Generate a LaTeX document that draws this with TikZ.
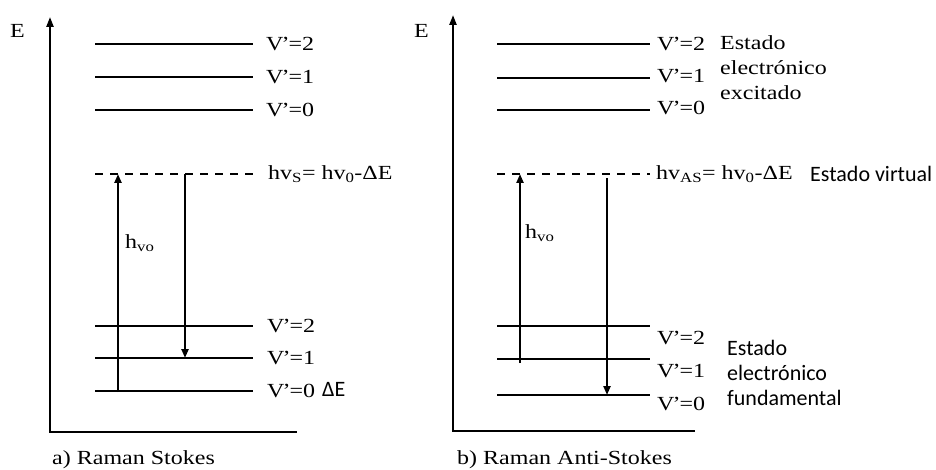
\documentclass[tikz,border=0pt]{standalone}
\usepackage{fontspec}
\setmainfont{Liberation Serif}[FakeStretch=1.2]
\newfontfamily\calib{Carlito}
\usetikzlibrary{arrows.meta}
\newcommand\myVp{V\kern-2pt’\kern-1pt}
\begin{document}
\begin{tikzpicture}[x=1pt,y=-1pt,
  lvl/.style={line width=2.2pt},
  axisline/.style={line width=2.2pt,{Triangle[length=10pt,width=7pt]}-},
  dashlvl/.style={line width=1.9pt, dash pattern=on 8pt off 7pt},
  tr/.style={line width=2.2pt,-{Triangle[length=9pt,width=7pt]}},
  lab/.style={anchor=west, inner sep=0pt, font=\fontsize{20}{23}\selectfont, align=left},
  sans/.style={anchor=west, inner sep=0pt, font=\calib\fontsize{22}{24}\selectfont, align=left},
]
\useasboundingbox (0,0) rectangle (936,470);

% ---------------- left panel ----------------
\coordinate (aTop) at (50,17);
\coordinate (aO) at (50,432);
\coordinate (aRight) at (297,432);
\draw[axisline] (aTop) -- (aO) -- (aRight);
\node[lab] (aE) at (10,31) {E};

\draw[lvl] (95,44) coordinate (aU2l) -- (253,44) coordinate (aU2r);
\draw[lvl] (95,77) coordinate (aU1l) -- (253,77) coordinate (aU1r);
\draw[lvl] (95,110) coordinate (aU0l) -- (253,110) coordinate (aU0r);
\node[lab] (aU2t) at ([xshift=13pt]aU2r) {\myVp=2};
\node[lab] (aU1t) at ([xshift=13pt]aU1r) {\myVp=1};
\node[lab] (aU0t) at ([xshift=13pt]aU0r) {\myVp=0};

\draw[dashlvl] (95,174) coordinate (aVl) -- (253,174) coordinate (aVr);
\node[lab] (aVt) at ([xshift=15pt]aVr) {hv\textsubscript{S}= hv\textsubscript{0}-ΔE};

\draw[lvl] (95,326) coordinate (aL2l) -- (253,326) coordinate (aL2r);
\draw[lvl] (95,358) coordinate (aL1l) -- (253,358) coordinate (aL1r);
\draw[lvl] (95,391) coordinate (aL0l) -- (253,391) coordinate (aL0r);
\node[lab] (aL2t) at ([xshift=14pt]aL2r) {\myVp=2};
\node[lab] (aL1t) at ([xshift=14pt]aL1r) {\myVp=1};
\node[lab] (aL0t) at ([xshift=14pt]aL0r) {\myVp=0};
\node[sans] (aDE) at (322,389) {ΔE};

\coordinate (aUpS) at (118,392);
\coordinate (aUpE) at (118,174);
\coordinate (aDnS) at (185,174);
\coordinate (aDnE) at (185,358);
\draw[tr] (aUpS) -- (aUpE);
\draw[tr] (aDnS) -- (aDnE);
\node[lab] (aH) at (125,243) {h\textsubscript{vo}};

\node[lab] (aCap) at (52,460) {a) Raman Stokes};

% ---------------- right panel ----------------
\coordinate (bTop) at (453,15);
\coordinate (bO) at (453,431);
\coordinate (bRight) at (695,431);
\draw[axisline] (bTop) -- (bO) -- (bRight);
\node[lab] (bE) at (414,31) {E};

\draw[lvl] (497,44) coordinate (bU2l) -- (650,44) coordinate (bU2r);
\draw[lvl] (497,78) coordinate (bU1l) -- (650,78) coordinate (bU1r);
\draw[lvl] (497,110) coordinate (bU0l) -- (650,110) coordinate (bU0r);
\node[lab] (bU2t) at ([xshift=7pt]bU2r) {\myVp=2};
\node[lab] (bU1t) at ([xshift=7pt,yshift=2pt]bU1r) {\myVp=1};
\node[lab] (bU0t) at ([xshift=7pt,yshift=2pt]bU0r) {\myVp=0};
\node[lab, anchor=north west, font=\fontsize{20}{25}\selectfont] (bExc) at (720,35) {Estado\\electrónico\\excitado};

\draw[dashlvl] (497,174) coordinate (bVl) -- (650,174) coordinate (bVr);
\node[lab] (bVt) at ([xshift=6pt]bVr) {hv\textsubscript{AS}= hv\textsubscript{0}-ΔE};
\node[sans] (bVirt) at (810,174) {Estado virtual};

\draw[lvl] (497,326) coordinate (bL2l) -- (650,326) coordinate (bL2r);
\draw[lvl] (497,359) coordinate (bL1l) -- (650,359) coordinate (bL1r);
\draw[lvl] (497,395) coordinate (bL0l) -- (650,395) coordinate (bL0r);
\node[lab] (bL2t) at (657,338) {\myVp=2};
\node[lab] (bL1t) at (657,371) {\myVp=1};
\node[lab] (bL0t) at (657,404) {\myVp=0};
\node[sans, anchor=north west, font=\calib\fontsize{22}{25}\selectfont] (bFund) at (727,340) {Estado\\electrónico\\fundamental};

\coordinate (bUpS) at (520,363);
\coordinate (bUpE) at (520,174);
\coordinate (bDnS) at (607,178);
\coordinate (bDnE) at (607,395);
\draw[tr] (bUpS) -- (bUpE);
\draw[tr] (bDnS) -- (bDnE);
\node[lab] (bH) at (525,233) {h\textsubscript{vo}};

\node[lab] (bCap) at (457,460) {b) Raman Anti-Stokes};
\end{tikzpicture}
\end{document}
